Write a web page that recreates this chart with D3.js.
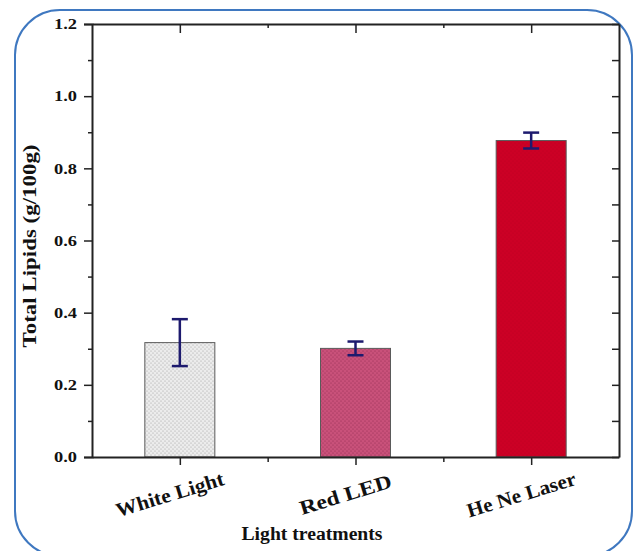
<!DOCTYPE html>
<html>
<head>
<meta charset="utf-8">
<script src="https://cdn.jsdelivr.net/npm/d3@7"></script>
<style>
  body { margin: 0; background: #fff; }
  text { font-family: "Liberation Serif", "Times New Roman", serif; font-weight: bold; fill: #111; }
</style>
</head>
<body>
<svg id="chart" width="633" height="551"></svg>
<script>
// data
var categories = ["White Light", "Red LED", "He Ne Laser"];
var lipids = [0.317, 0.301, 0.877];
var errors = [0.065, 0.019, 0.022];
var yTicks = [0.0, 0.2, 0.4, 0.6, 0.8, 1.0, 1.2];
var yMinor = [0.1, 0.3, 0.5, 0.7, 0.9, 1.1];

var svg = d3.select("#chart");

// outer rounded frame
svg.append("rect")
    .attr("x", 15).attr("y", 10)
    .attr("width", 617).attr("height", 546)
    .attr("rx", 45).attr("ry", 45)
    .attr("fill", "none")
    .attr("stroke", "#3f78c0")
    .attr("stroke-width", 2);

// plot area
const pLeft = 92, pRight = 619, pTop = 24, pBottom = 457;

var x = d3.scalePoint().domain(categories).range([pLeft, pRight]).padding(0.5);
var y = d3.scaleLinear().domain([0, 1.2]).range([pBottom, pTop]);
var step = x.step();
var xMinor = categories.slice(1).map(c => x(c) - step / 2);

// patterns for the dotted fills
var defs = svg.append("defs");
function dotPattern(id, bg, dot, r){
    var p = defs.append("pattern").attr("id", id)
        .attr("width", 4).attr("height", 4)
        .attr("patternUnits", "userSpaceOnUse");
    p.append("rect").attr("width", 4).attr("height", 4).attr("fill", bg);
    p.append("circle").attr("cx", 1).attr("cy", 1).attr("r", r).attr("fill", dot);
    p.append("circle").attr("cx", 3).attr("cy", 3).attr("r", r).attr("fill", dot);
}
dotPattern("pWhite", "#ececec", "#9a9a9a", 0.55);
dotPattern("pRed", "#c9517a", "#8e2a4c", 0.55);
dotPattern("pLaser", "#cc0025", "#b8001f", 0.5);
var fills = ["url(#pWhite)", "url(#pRed)", "url(#pLaser)"];

// bars
const barW = 70;
svg.append("g").selectAll("rect")
    .data(categories)
    .enter()
    .append("rect")
    .attr("x", d => x(d) - barW / 2)
    .attr("y", (d, i) => y(lipids[i]))
    .attr("width", barW)
    .attr("height", (d, i) => y(0) - y(lipids[i]))
    .attr("fill", (d, i) => fills[i])
    .attr("stroke", "#5a5a5a")
    .attr("stroke-width", 1);

// error bars
var eb = svg.append("g").attr("stroke", "#1d1a6e").attr("stroke-width", 2.5);
categories.forEach((c, i) => {
    var cx = x(c), hi = y(lipids[i] + errors[i]), lo = y(lipids[i] - errors[i]);
    eb.append("line").attr("x1", cx).attr("x2", cx).attr("y1", hi).attr("y2", lo);
    eb.append("line").attr("x1", cx - 8).attr("x2", cx + 8).attr("y1", hi).attr("y2", hi);
    eb.append("line").attr("x1", cx - 8).attr("x2", cx + 8).attr("y1", lo).attr("y2", lo);
});

// axes
function styleAxis(g){
    g.select(".domain").attr("stroke", "#222").attr("stroke-width", 2);
    g.selectAll(".tick line").attr("stroke", "#222").attr("stroke-width", 1.5);
}

// left axis with labels
var gLeft = svg.append("g").attr("transform", `translate(${pLeft},0)`)
    .call(d3.axisLeft(y).tickValues(yTicks).tickSize(8).tickPadding(7).tickFormat(d3.format(".1f")));
styleAxis(gLeft);
gLeft.attr("font-family", null);
gLeft.selectAll("text")
    .style("font-size", "15px")
    .attr("textLength", 23)
    .attr("lengthAdjust", "spacingAndGlyphs");
svg.append("g").attr("transform", `translate(${pLeft},0)`)
    .call(d3.axisLeft(y).tickValues(yMinor).tickSize(4).tickFormat(""))
    .call(styleAxis).select(".domain").remove();

// right axis, ticks inward
svg.append("g").attr("transform", `translate(${pRight},0)`)
    .call(d3.axisLeft(y).tickValues(yTicks.concat(yMinor)).tickSize(7).tickFormat("").tickSizeOuter(0))
    .call(styleAxis);

// bottom axis
svg.append("g").attr("transform", `translate(0,${pBottom})`)
    .call(d3.axisBottom(x).tickSize(8).tickSizeOuter(0).tickFormat(""))
    .call(styleAxis);
svg.append("g").attr("transform", `translate(0,${pBottom})`)
    .call(d3.axisBottom(d3.scaleLinear().domain([pLeft, pRight]).range([pLeft, pRight]))
        .tickValues(xMinor).tickSize(5).tickFormat(""))
    .call(styleAxis).select(".domain").remove();

// top axis, ticks inward
svg.append("g").attr("transform", `translate(0,${pTop})`)
    .call(d3.axisBottom(x).tickSize(9).tickSizeOuter(0).tickFormat(""))
    .call(styleAxis);
svg.append("g").attr("transform", `translate(0,${pTop})`)
    .call(d3.axisBottom(d3.scaleLinear().domain([pLeft, pRight]).range([pLeft, pRight]))
        .tickValues(xMinor).tickSize(4).tickFormat(""))
    .call(styleAxis).select(".domain").remove();

// rotated category labels
var labelLen = [112, 95, 113];
svg.append("g").selectAll("text")
    .data(categories)
    .enter()
    .append("text")
    .attr("transform", d => `translate(${x(d) - 8},${pBottom + 44}) rotate(-17)`)
    .attr("text-anchor", "middle")
    .attr("font-size", 20)
    .attr("textLength", (d, i) => labelLen[i])
    .attr("lengthAdjust", "spacingAndGlyphs")
    .text(d => d);

// axis titles
svg.append("text")
    .attr("x", 312).attr("y", 540)
    .attr("text-anchor", "middle")
    .attr("font-size", 18)
    .attr("textLength", 141)
    .attr("lengthAdjust", "spacingAndGlyphs")
    .text("Light treatments");

svg.append("text")
    .attr("transform", "translate(36,246) rotate(-90)")
    .attr("text-anchor", "middle")
    .attr("font-size", 18)
    .attr("textLength", 203)
    .attr("lengthAdjust", "spacingAndGlyphs")
    .text("Total Lipids (g/100g)");
</script>
</body>
</html>
